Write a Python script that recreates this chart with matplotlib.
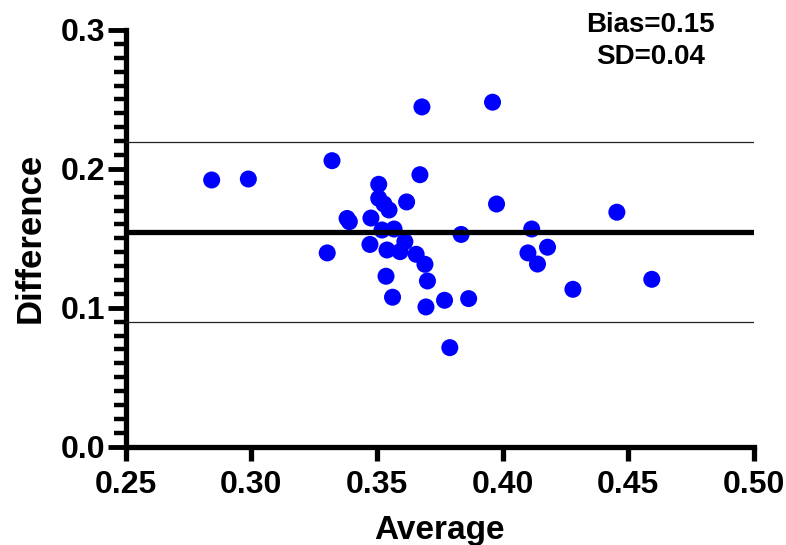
import numpy as np
import matplotlib
matplotlib.use("Agg")
import matplotlib.pyplot as plt
from matplotlib.ticker import MultipleLocator, FormatStrFormatter

# Bland-Altman data
average = [0.2842, 0.2988, 0.3321, 0.3302, 0.3679, 0.3960, 0.3671, 0.3976,
           0.3507, 0.3507, 0.3528, 0.3548, 0.3618, 0.3381, 0.3390, 0.3476,
           0.3520, 0.3568, 0.3835, 0.4116, 0.4179, 0.4101, 0.4139, 0.4455,
           0.4594, 0.4280, 0.3611, 0.3472, 0.3540, 0.3592, 0.3656, 0.3691,
           0.3536, 0.3701, 0.3562, 0.3769, 0.3865, 0.3695, 0.3790]
difference = [0.1920, 0.1927, 0.2059, 0.1395, 0.2446, 0.2480, 0.1958, 0.1747,
              0.1889, 0.1788, 0.1747, 0.1704, 0.1762, 0.1643, 0.1620, 0.1646,
              0.1560, 0.1567, 0.1528, 0.1567, 0.1436, 0.1395, 0.1315, 0.1688,
              0.1205, 0.1133, 0.1476, 0.1456, 0.1416, 0.1404, 0.1385, 0.1313,
              0.1227, 0.1193, 0.1076, 0.1054, 0.1066, 0.1006, 0.0713]

bias = 0.1544
upper_loa = 0.2194
lower_loa = 0.0898

plt.rcParams['font.family'] = ['Liberation Sans', 'DejaVu Sans']
plt.rcParams['font.weight'] = 'bold'

fig = plt.figure(figsize=(7.86, 5.45), dpi=100)
ax = fig.add_axes([0.16, 0.1804, 0.799, 0.7646])

ax.scatter(average, difference, s=150, color='#0000ff', edgecolors='none', zorder=2)

# bias line and limits of agreement
ax.axhline(bias, color='black', lw=3.8, zorder=3)
ax.axhline(upper_loa, color='#222222', lw=0.9, zorder=3)
ax.axhline(lower_loa, color='#222222', lw=0.9, zorder=3)

ax.set_xlim(0.25, 0.50)
ax.set_ylim(0.0, 0.3)

for s in ['top', 'right']:
    ax.spines[s].set_visible(False)
for s in ['left', 'bottom']:
    ax.spines[s].set_linewidth(3.8)

ax.xaxis.set_major_locator(MultipleLocator(0.05))
ax.xaxis.set_major_formatter(FormatStrFormatter('%.2f'))
ax.yaxis.set_major_locator(MultipleLocator(0.1))
ax.yaxis.set_minor_locator(MultipleLocator(0.01))
ax.yaxis.set_major_formatter(FormatStrFormatter('%.1f'))

ax.tick_params(axis='x', which='major', length=10, width=3.8, labelsize=23, pad=7)
ax.tick_params(axis='y', which='major', length=13, width=3.5, labelsize=23, pad=2)
ax.tick_params(axis='y', which='minor', length=8.5, width=3.2)

ax.set_xlabel('Average', fontsize=24, fontweight='bold', labelpad=10.5)
ax.set_ylabel('Difference', fontsize=25, fontweight='bold', labelpad=10)

fig.text(0.828, 0.978, 'Bias=0.15\nSD=0.04', ha='center', va='top',
         fontsize=20, fontweight='bold', linespacing=1.3)

fig.savefig('out.png', dpi=100)
